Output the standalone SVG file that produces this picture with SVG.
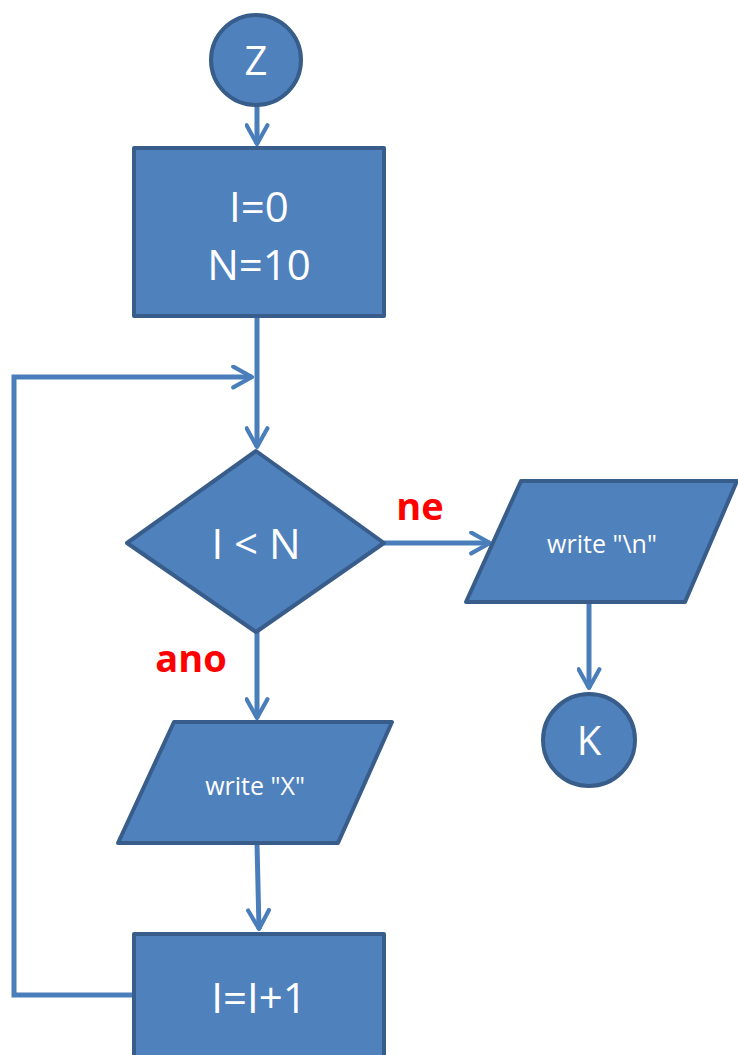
<svg xmlns="http://www.w3.org/2000/svg" width="738" height="1055" viewBox="0 0 738 1055">
<style>
.n{fill:#4F81BD;stroke:#385D8A;stroke-width:4;stroke-linejoin:round}
.c{fill:none;stroke:#4A7EBB;stroke-width:5}
.t{fill:#fff;font-family:"Open Sans","Liberation Sans",sans-serif;text-anchor:middle}
.l{fill:#FF0000;font-family:"Open Sans","Liberation Sans",sans-serif;font-weight:bold;font-size:38px;text-anchor:middle}
</style>
<defs>
<marker id="a" viewBox="0 0 12 12" refX="11" refY="6" markerWidth="5" markerHeight="5" orient="auto" markerUnits="strokeWidth">
<polyline points="2,1 11,6 2,11" fill="none" stroke="#4A7EBB" stroke-width="2" stroke-linecap="round" stroke-linejoin="round"/>
</marker>
</defs>
<g id="connectors">
<line class="c" x1="257" y1="106" x2="257" y2="144" marker-end="url(#a)"/>
<line class="c" x1="257" y1="316" x2="257" y2="447" marker-end="url(#a)"/>
<polyline class="c" points="134,995 14,995 14,377 252,377" marker-end="url(#a)"/>
<line class="c" x1="384" y1="543" x2="490" y2="543" marker-end="url(#a)"/>
<line class="c" x1="589" y1="602" x2="589" y2="688" marker-end="url(#a)"/>
<line class="c" x1="257" y1="632" x2="257" y2="718" marker-end="url(#a)"/>
<line class="c" x1="257" y1="843" x2="259" y2="929" marker-end="url(#a)"/>
</g>
<g id="Z">
<circle class="n" cx="256" cy="60" r="45"/>
<text class="t" x="256" y="75" font-size="40">Z</text>
</g>
<g id="init">
<rect class="n" x="134" y="148" width="250" height="168"/>
<text class="t" x="259" y="222" font-size="42">I=0</text>
<text class="t" x="259" y="280" font-size="42">N=10</text>
</g>
<g id="cond">
<polygon class="n" points="256,451 384,543 256,632 127,543"/>
<text class="t" x="256" y="559" font-size="42">I &lt; N</text>
</g>
<g id="labels">
<text class="l" x="420" y="520">ne</text>
<text class="l" x="191" y="672">ano</text>
</g>
<g id="writeN">
<polygon class="n" points="521,481 737,481 685,602 466,602"/>
<text class="t" x="602" y="553" font-size="25">write "\n"</text>
</g>
<g id="K">
<circle class="n" cx="589" cy="740" r="46"/>
<text class="t" x="589" y="755" font-size="40">K</text>
</g>
<g id="writeX">
<polygon class="n" points="174,722 392,722 338,843 118,843"/>
<text class="t" x="255" y="795" font-size="25">write "X"</text>
</g>
<g id="inc">
<rect class="n" x="134" y="934" width="250" height="130"/>
<text class="t" x="259" y="1013" font-size="42">I=I+1</text>
</g>
</svg>
